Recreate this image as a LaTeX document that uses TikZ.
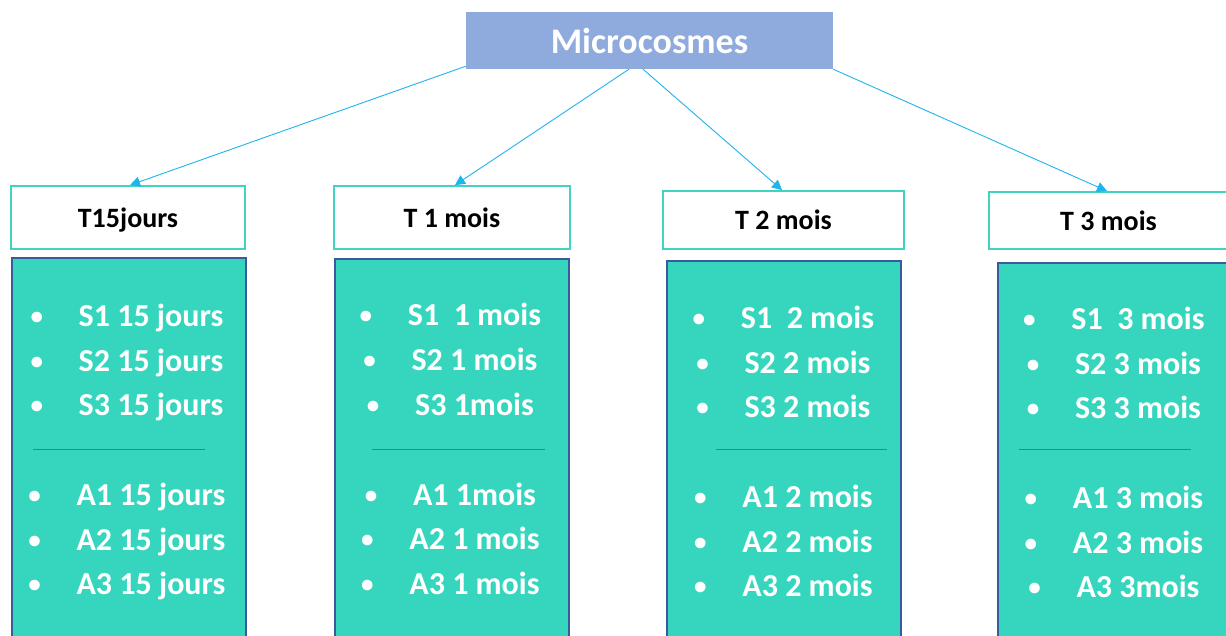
\documentclass[tikz,border=0pt]{standalone}
\usepackage{fontspec}
\setmainfont{Carlito}
\usetikzlibrary{arrows.meta,calc}
\definecolor{topfill}{HTML}{8FAADC}
\definecolor{tealfill}{HTML}{36D6BE}
\definecolor{tealedge}{HTML}{3B5A9C}
\definecolor{headedge}{HTML}{40D4C0}
\definecolor{arrowc}{HTML}{1EB4EE}
\definecolor{sepc}{HTML}{4472C4}
\newcommand{\itm}[1]{\makebox[49pt][l]{\makebox[14pt]{\raisebox{2pt}{\fontsize{25}{25}\selectfont\textbullet}}}#1}
\tikzset{
  topbox/.style={fill=topfill, draw=none, inner sep=0, text=white,
    font=\fontsize{36}{40}\selectfont\bfseries},
  headbox/.style={fill=white, draw=headedge, line width=1.8pt, inner sep=0,
    text height=25pt, text depth=6pt,
    font=\fontsize{28}{30}\selectfont\bfseries},
  tealbox/.style={fill=tealfill, draw=tealedge, line width=1.8pt, inner sep=0, anchor=north west},
  item/.style={anchor=base, inner sep=0, text=white, font=\fontsize{32}{36}\selectfont\bfseries},
  conn/.style={draw=arrowc, line width=0.9pt, -{Triangle[length=10pt,width=10pt]}},
  sep/.style={draw=sepc, line width=0.8pt}
}
\begin{document}
\begin{tikzpicture}[x=1pt,y=-1pt]
\useasboundingbox (0,0) rectangle (1226,635);
\clip (0,0) rectangle (1226,635);
\fill[white] (0,0) rectangle (1226,635);
% top
\node[topbox, minimum width=367, minimum height=57] (top) at (649.5,40.5) {Microcosmes};
% headers
\node[headbox, minimum width=234, minimum height=63] (h1) at (128,217.5) {T15jours};
\node[headbox, minimum width=236, minimum height=63] (h2) at (452,217.5) {T 1 mois};
\node[headbox, minimum width=241, minimum height=58] (h3) at (783.5,220) {T 2 mois};
\node[headbox, minimum width=239, minimum height=57] (h4) at (1108.5,220.5) {T 3 mois};
% teal boxes
\node[tealbox, minimum width=234, minimum height=390] (b1) at (11,257) {};
\node[tealbox, minimum width=234, minimum height=390] (b2) at (334,258) {};
\node[tealbox, minimum width=234, minimum height=390] (b3) at (666,260) {};
\node[tealbox, minimum width=234, minimum height=390] (b4) at (997,262) {};
% connectors
\draw[conn] ($(top.south west)+(0,-3)$) -- ($(h1.north)+(2,0)$);
\draw[conn] ($(top.south)+(-20.5,0)$) -- ($(h2.north)+(3,0)$);
\draw[conn] ($(top.south)+(-6.5,0)$) -- ($(h3.north)+(-1.5,0)$);
\draw[conn] (top.south east) -- ($(h4.north)+(-1.5,0)$);
% separators
\coordinate (s1a) at (33,449); \coordinate (s1b) at (205,449);
\coordinate (s2a) at (372,449); \coordinate (s2b) at (545,449);
\coordinate (s3a) at (716,449); \coordinate (s3b) at (887,449);
\coordinate (s4a) at (1019,449); \coordinate (s4b) at (1191,449);
\draw[sep] (s1a) -- (s1b);
\draw[sep] (s2a) -- (s2b);
\draw[sep] (s3a) -- (s3b);
\draw[sep] (s4a) -- (s4b);
% box 1
\node[item] (b1s1) at (126.5,326) {\itm{S1 15 jours}};
\node[item] (b1s2) at (126.5,371) {\itm{S2 15 jours}};
\node[item] (b1s3) at (126.5,415) {\itm{S3 15 jours}};
\node[item] (b1a1) at (126.5,505) {\itm{A1 15 jours}};
\node[item] (b1a2) at (126.5,550) {\itm{A2 15 jours}};
\node[item] (b1a3) at (126.5,594) {\itm{A3 15 jours}};
% box 2
\node[item] (b2s1) at (450,325) {\itm{S1\ \ 1 mois}};
\node[item] (b2s2) at (450,370) {\itm{S2 1 mois}};
\node[item] (b2s3) at (450,415) {\itm{S3 1mois}};
\node[item] (b2a1) at (450,505) {\itm{A1 1mois}};
\node[item] (b2a2) at (450,549) {\itm{A2 1 mois}};
\node[item] (b2a3) at (450,594) {\itm{A3 1 mois}};
% box 3
\node[item] (b3s1) at (783,328) {\itm{S1\ \ 2 mois}};
\node[item] (b3s2) at (783,373) {\itm{S2 2 mois}};
\node[item] (b3s3) at (783,417) {\itm{S3 2 mois}};
\node[item] (b3a1) at (783,507) {\itm{A1 2 mois}};
\node[item] (b3a2) at (783,552) {\itm{A2 2 mois}};
\node[item] (b3a3) at (783,596) {\itm{A3 2 mois}};
% box 4
\node[item] (b4s1) at (1113.5,329) {\itm{S1\ \ 3 mois}};
\node[item] (b4s2) at (1113.5,374) {\itm{S2 3 mois}};
\node[item] (b4s3) at (1113.5,418) {\itm{S3 3 mois}};
\node[item] (b4a1) at (1113.5,508) {\itm{A1 3 mois}};
\node[item] (b4a2) at (1113.5,553) {\itm{A2 3 mois}};
\node[item] (b4a3) at (1113.5,597) {\itm{A3 3mois}};
\end{tikzpicture}
\end{document}
